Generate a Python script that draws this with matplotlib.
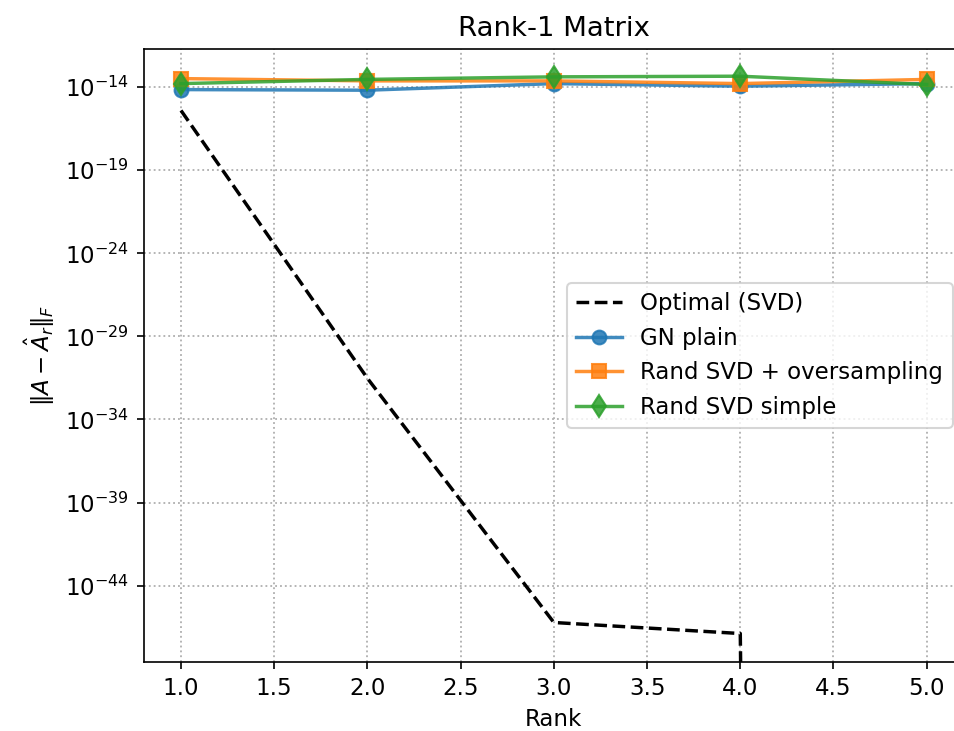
import matplotlib
matplotlib.use("Agg")
import matplotlib.pyplot as plt
import numpy as np

ranks = [1, 2, 3, 4, 5]
optimal = [4e-16, 3e-32, 6e-47, 1.3e-47, 0.0]
gn_plain = [7.2e-15, 6.6e-15, 1.65e-14, 1.15e-14, 1.65e-14]
rand_over = [3.3e-14, 2.4e-14, 2.4e-14, 1.65e-14, 2.95e-14]
rand_simple = [1.65e-14, 2.95e-14, 4.2e-14, 4.6e-14, 1.45e-14]
ytick_exps = [-44, -39, -34, -29, -24, -19, -14]

s = 1.1
plt.rcParams['font.size'] = 10 * s

fig = plt.figure(figsize=(954/150, 731/150), dpi=150)
left_px, right_px = 143.7, 964.0
ax = fig.add_axes([left_px/954, 69/731, (right_px-left_px)/954, (662-49)/731])

ax.plot(ranks, optimal, 'k--', lw=1.5*s, label='Optimal (SVD)')
ax.plot(ranks, gn_plain, marker='o', color='#1f77b4', lw=1.5*s, ms=6*s, alpha=0.85, label='GN plain')
ax.plot(ranks, rand_over, marker='s', color='#ff7f0e', lw=1.5*s, ms=6*s, alpha=0.85, label='Rand SVD + oversampling')
ax.plot(ranks, rand_simple, marker='d', color='#2ca02c', lw=1.5*s, ms=7*s, alpha=0.85, label='Rand SVD simple')

ax.set_yscale('log')
ax.set_ylim(10**-48.6, 10**-11.7)
ax.set_xlim(0.8, 5.2)
ax.set_yticks([10.0**e for e in ytick_exps])
ax.set_yticklabels([r'$10^{%d}$' % e for e in ytick_exps])
ax.yaxis.set_minor_locator(matplotlib.ticker.NullLocator())
ax.set_xticks(np.arange(1.0, 5.01, 0.5))
ax.grid(True, linestyle=':', color='#b0b0b0', lw=0.8*s)
ax.set_xlabel('Rank')
ax.set_ylabel(r'$\|A - \hat{A}_r\|_F$')
ax.set_title('Rank-1 Matrix', fontsize=12 * s)
ax.legend(loc='center right')

fig.savefig('out.png', dpi=150)
